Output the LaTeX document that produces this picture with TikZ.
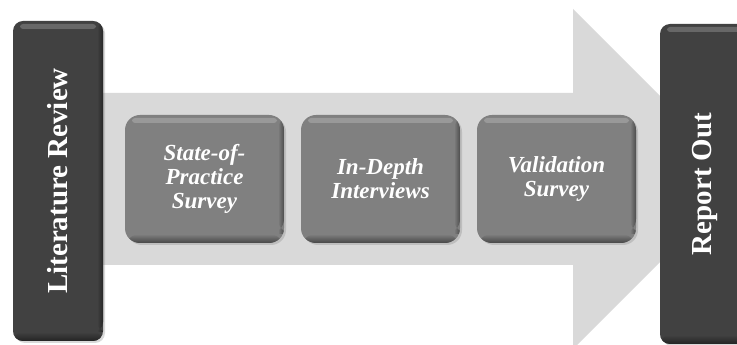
\documentclass[tikz,border=0pt]{standalone}
\usepackage{fontspec}
\setmainfont{Liberation Serif}
\usetikzlibrary{chains,positioning,shadows}

\definecolor{arrowgray}{HTML}{D9D9D9}
\definecolor{darkbox}{HTML}{414141}
\definecolor{midbox}{HTML}{808080}

\begin{document}
\begin{tikzpicture}[
		x=1pt, y=1pt,
		node distance=17pt,
		bevel/.style = {path picture={% light rim on top, dark rim at bottom and right
				\fill[white, opacity=0.2, rounded corners=3pt]
				([xshift=7pt, yshift=-3pt]path picture bounding box.north west) rectangle
				([xshift=-7pt, yshift=-8pt]path picture bounding box.north east);
				\shade[top color=#1, bottom color=#1!55!black]
				([yshift=9pt]path picture bounding box.south west) rectangle
				(path picture bounding box.south east);
				\shade[left color=#1, right color=#1!60!black]
				([xshift=-6pt]path picture bounding box.north east) rectangle
				([yshift=9pt]path picture bounding box.south east);}},
		endbox/.style = {rectangle, rounded corners=10pt,
			minimum width=90pt, minimum height=320pt, outer sep=0pt,
			fill=darkbox, bevel=darkbox,
			drop shadow={opacity=0.3, shadow xshift=2pt, shadow yshift=-2pt}},
		endtext/.style = {rotate=90, text=white, font=\bfseries\fontsize{29}{32}\selectfont},
		stage/.style = {rectangle, rounded corners=15pt,% styles of the three inner steps
			minimum width=159pt, minimum height=128pt, outer sep=0pt,
			fill=midbox, bevel=midbox,
			drop shadow={opacity=0.3, shadow xshift=2pt, shadow yshift=-2pt},
			text=white, align=center, font=\bfseries\itshape\fontsize{23}{24}\selectfont,
			on chain},
		]
		\useasboundingbox (0,0) rectangle (737,345);
		\clip (0,0) rectangle (737,345);
		% big arrow behind everything
		\fill[arrowgray] (100,252) -- (573,252) -- (573,336) -- (743,166)
		-- (573,-4) -- (573,80) -- (100,80) -- cycle;
		\node (lit) [endbox, label={[endtext]center:Literature Review}] at (58,164) {};
		\node (rep) [endbox, label={[endtext]center:Report Out}] at (705,161) {};
		\begin{scope}[shift={(204.5,166)}, start chain = S going right]
			\foreach \t in {{State-of-\\Practice\\Survey},{In-Depth\\Interviews},{Validation\\Survey}}% <-- steps
			\node[stage] {\t};
		\end{scope}
	\end{tikzpicture}
\end{document}
